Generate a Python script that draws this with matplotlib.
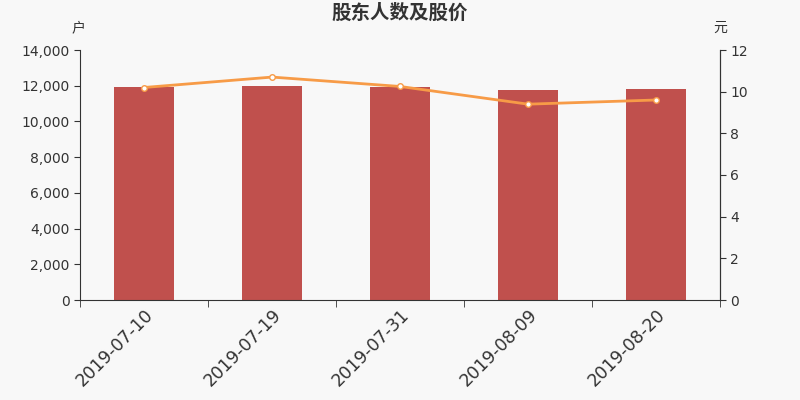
import matplotlib.pyplot as plt
from matplotlib.ticker import FuncFormatter, MultipleLocator
from matplotlib.transforms import ScaledTranslation
import numpy as np

plt.rcParams['font.family'] = ['DejaVu Sans', 'Noto Sans CJK SC']

dates = ['2019-07-10', '2019-07-19', '2019-07-31', '2019-08-09', '2019-08-20']
holders = [11900, 12000, 11950, 11750, 11800]
price = [10.2, 10.7, 10.25, 9.4, 9.6]

bg = '#f8f8f8'
fig = plt.figure(figsize=(8, 4), dpi=100, facecolor=bg)
ax = fig.add_axes([0.1, 0.25, 0.8, 0.625], facecolor=bg)

x = np.arange(len(dates))
ax.bar(x, holders, width=0.47, color='#c0504d', zorder=2)
ax.set_xlim(-0.5, len(dates) - 0.5)
ax.set_ylim(0, 14000)
ax.yaxis.set_major_locator(MultipleLocator(2000))
ax.yaxis.set_major_formatter(FuncFormatter(lambda v, p: f'{int(v):,}'))

ax.set_xticks(x)
ax.set_xticklabels(dates, rotation=45, ha='right', rotation_mode='anchor',
                   fontsize=12.5, color='#333333')
# nudge date labels a little left
shift = ScaledTranslation(-6 / 100, 0, fig.dpi_scale_trans)
for lbl in ax.get_xticklabels():
    lbl.set_transform(lbl.get_transform() + shift)
ax.set_xticks(np.arange(len(dates) + 1) - 0.5, minor=True)
ax.tick_params(axis='x', which='major', length=0, pad=4)
ax.tick_params(axis='x', which='minor', length=5, color='#333333')
ax.tick_params(axis='y', labelsize=10, labelcolor='#333333', length=4, color='#333333')

ax.spines['top'].set_visible(False)
for s in ['left', 'bottom', 'right']:
    ax.spines[s].set_color('#333333')

ax2 = ax.twinx()
ax2.plot(x, price, color='#f79b47', lw=2, marker='o', markersize=4,
         markerfacecolor='white', markeredgecolor='#f79b47', markeredgewidth=1, zorder=3)
ax2.set_ylim(0, 12)
ax2.yaxis.set_major_locator(MultipleLocator(2))
ax2.tick_params(axis='y', labelsize=10, labelcolor='#333333', length=4, color='#333333')
ax2.spines['top'].set_visible(False)
ax2.spines['right'].set_color('#333333')
ax2.spines['left'].set_visible(False)
ax2.spines['bottom'].set_visible(False)

fig.text(0.5, 0.968, '股东人数及股价', ha='center', va='center', fontsize=14,
         fontweight='bold', color='#333333')
fig.text(0.098, 0.93, '户', ha='center', va='center', fontsize=10, color='#333333')
fig.text(0.9, 0.93, '元', ha='center', va='center', fontsize=10, color='#333333')

fig.savefig('out.png', dpi=100, facecolor=bg)
